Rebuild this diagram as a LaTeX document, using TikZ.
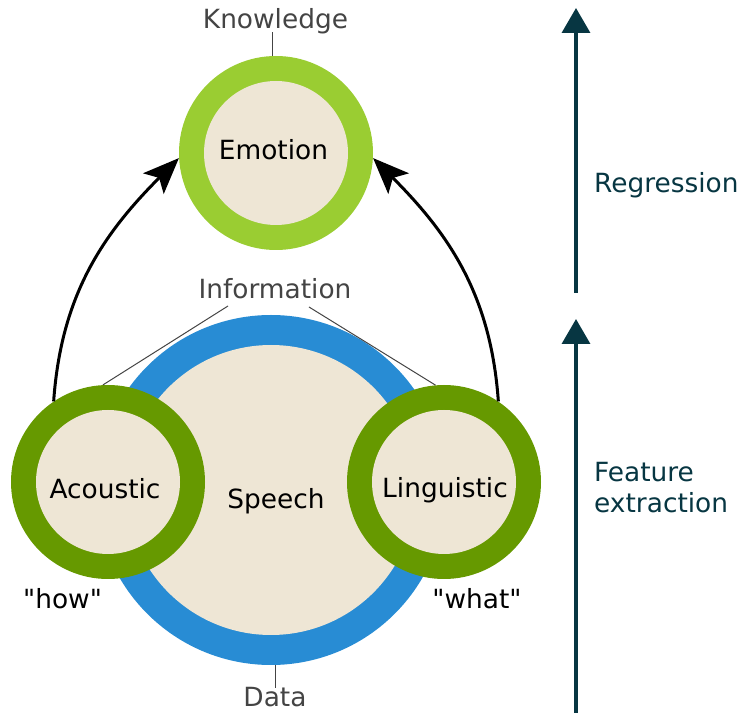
\documentclass[tikz,border=0pt]{standalone}
\usepackage{fontspec}
\setmainfont{DejaVu Sans}
\usetikzlibrary{arrows.meta}
\definecolor{lgreen}{HTML}{9ACD32}
\definecolor{dgreen}{HTML}{669900}
\definecolor{sblue}{HTML}{288CD4}
\definecolor{beige}{HTML}{EEE6D5}
\definecolor{axis}{HTML}{073642}
\definecolor{lblgray}{HTML}{444444}
\begin{document}
\begin{tikzpicture}[x=1pt,y=1pt,
  disc/.style={circle,inner sep=0pt,draw=none},
  txt/.style={inner sep=0pt,anchor=base,font=\fontsize{26.4}{31}\selectfont},
  graytxt/.style={txt,text=lblgray},
  axistxt/.style={inner sep=0pt,anchor=base west,align=left,text=axis,font=\fontsize{26.4}{31}\selectfont},
  thinline/.style={draw=lblgray,line width=1pt},
  curvearrow/.style={draw=black,line width=3pt,-{Stealth[length=36pt,width=29pt,inset=8pt]}},
  axisarrow/.style={draw=axis,line width=3.5pt,-{Triangle[length=25pt,width=28pt]}}]
\useasboundingbox (0,0) rectangle (740,713);
% speech
\node[disc,fill=sblue,minimum size=350pt] (speech) at (271,223) {};
\node[disc,fill=beige,minimum size=290pt] (speechIn) at (271,223) {};
% emotion
\node[disc,fill=lgreen,minimum size=194pt] (emo) at (276,560) {};
\node[disc,fill=beige,minimum size=144pt] (emoIn) at (276,560) {};
% acoustic
\node[disc,fill=dgreen,minimum size=194pt] (aco) at (108,231) {};
\node[disc,fill=beige,minimum size=144pt] (acoIn) at (108,231) {};
% linguistic
\node[disc,fill=dgreen,minimum size=194pt] (lin) at (444,231) {};
\node[disc,fill=beige,minimum size=144pt] (linIn) at (444,231) {};
% texts
\node[txt] (temo) at (273.5,553) {Emotion};
\node[txt] (tspeech) at (276,204) {Speech};
\node[txt] (taco) at (105,214) {Acoustic};
\node[txt] (tlin) at (445,215) {Linguistic};
\node[txt] (thow) at (62.5,104) {\textquotedbl how\textquotedbl};
\node[txt] (twhat) at (477,104) {\textquotedbl what\textquotedbl};
\node[graytxt] (know) at (275.5,684) {Knowledge};
\node[graytxt] (info) at (275,414) {Information};
\node[graytxt] (data) at (275,6) {Data};
% label lines
\coordinate (kt) at (272,681);
\draw[thinline] (emo.north -| kt) -- (kt);
\coordinate (dt) at (275,25);
\draw[thinline] (speech.south -| dt) -- (dt);
\coordinate (il) at (228,407);
\coordinate (ir) at (309,406);
\draw[thinline] (il) -- (aco.93);
\draw[thinline] (ir) -- (lin.95);
% curved arrows
\draw[curvearrow] (aco.124) to[out=86,in=225] (emo.183);
\draw[curvearrow] (lin.56) to[out=94,in=-45] (emo.-3);
% axis
\coordinate (a1s) at (576,420);
\coordinate (a1e) at (576,705);
\coordinate (a2s) at (576,0);
\coordinate (a2e) at (576,394);
\draw[axisarrow] (a1s) -- (a1e);
\draw[axisarrow] (a2s) -- (a2e);
\node[axistxt] (reg) at (594,520) {Regression};
\node[axistxt,anchor=north west] (feat) at (594,251) {Feature\\extraction};
\end{tikzpicture}
\end{document}
